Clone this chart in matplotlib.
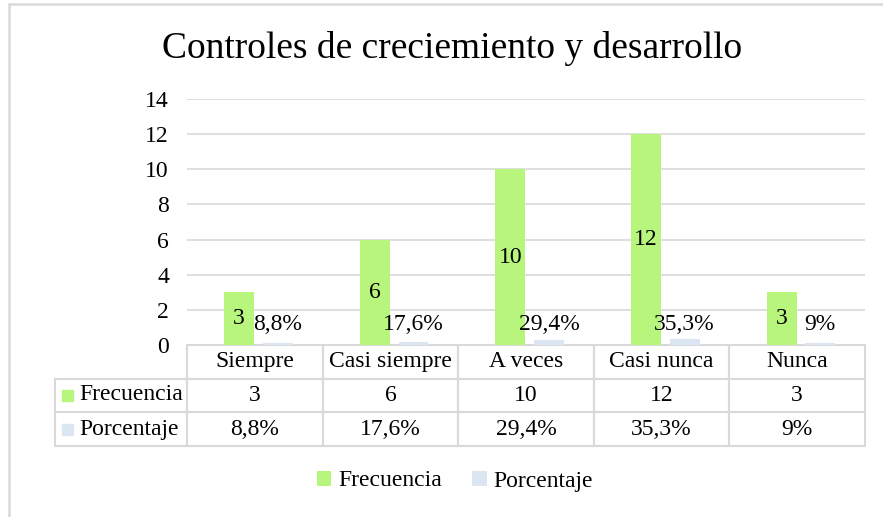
import matplotlib.pyplot as plt
import numpy as np

plt.rcParams['font.family'] = ['Liberation Serif', 'DejaVu Serif']

categorias = ["Siempre", "Casi siempre", "A veces", "Casi nunca", "Nunca"]
frecuencia = [3, 6, 10, 12, 3]
porcentaje = [0.088, 0.176, 0.294, 0.353, 0.09]
etiquetas_pct = ["8,8%", "17,6%", "29,4%", "35,3%", "9%"]

verde = '#B8F57C'
azul = '#DCE6F2'
gris = '#D9D9D9'
fs = 17

fig = plt.figure(figsize=(8.83, 5.17), dpi=100)
ax = fig.add_axes([0.2118, 0.3327, 0.7678, 0.4758])

x = np.arange(len(categorias))
ancho = 0.22
b1 = ax.bar(x - 0.115, frecuencia, ancho, color=verde, zorder=3)
b2 = ax.bar(x + 0.17, porcentaje, ancho, color=azul, zorder=3)

for rect, v in zip(b1, frecuencia):
    ax.text(rect.get_x() + rect.get_width() / 2, v / 2, str(v),
            ha='center', va='center', fontsize=fs, zorder=4)
for rect, t in zip(b2, etiquetas_pct):
    ax.text(rect.get_x() + rect.get_width() / 2, 0.55, t,
            ha='center', va='bottom', fontsize=fs, zorder=4)

ax.set_xlim(-0.5, 4.5)
ax.set_ylim(0, 14)
ax.set_yticks(range(0, 15, 2))
ax.tick_params(axis='y', length=0, labelsize=fs, pad=13)
ax.set_xticks([])
ax.grid(axis='y', color=gris, linewidth=1.2, zorder=0)
for s in ax.spines.values():
    s.set_visible(False)

# tabla de datos
filas = [[""] + categorias,
         [""] + [str(v) for v in frecuencia],
         [""] + etiquetas_pct]
w0 = 132 / 678
wc = 1 / 5
tabla = ax.table(cellText=filas, cellLoc='center',
                 bbox=[-w0, -0.4106, 1 + w0, 0.4106],
                 colWidths=[w0] + [wc] * 5)
tabla.auto_set_font_size(False)
tabla.set_fontsize(fs)
for (r, c), cell in tabla.get_celld().items():
    cell.set_edgecolor(gris)
    cell.set_linewidth(1.5)
    if r == 0 and c == 0:
        cell.visible_edges = 'BR'

# etiquetas de fila con su cuadrito
fig.text(79 / 883, 1 - 395 / 517, "Frecuencia", ha='left', va='center', fontsize=fs)
fig.text(79 / 883, 1 - 429 / 517, "Porcentaje", ha='left', va='center', fontsize=fs)
fig.patches.append(plt.Rectangle((62 / 883, 1 - 401 / 517), 11 / 883, 11 / 517,
                                 color=verde, transform=fig.transFigure))
fig.patches.append(plt.Rectangle((62 / 883, 1 - 435 / 517), 11 / 883, 11 / 517,
                                 color=azul, transform=fig.transFigure))

fig.text(452 / 883, 1 - 48 / 517, "Controles de creciemiento y desarrollo",
         ha='center', va='center', fontsize=27)

ax.legend([b1, b2], ["Frecuencia", "Porcentaje"], loc='center',
          bbox_to_anchor=(455 / 883, 1 - 481 / 517), bbox_transform=fig.transFigure,
          ncol=2, frameon=False, fontsize=fs, handlelength=0.6, handleheight=0.6,
          handletextpad=0.3, columnspacing=1.3)

# marco del gráfico (solo se ven los bordes superior e izquierdo)
fig.patches.append(plt.Rectangle((9 / 883, -0.05), 1.0, 1 - 4 / 517 + 0.05, fill=False,
                                 edgecolor=gris, linewidth=1.8, transform=fig.transFigure))

fig.savefig("out.png", dpi=100)
